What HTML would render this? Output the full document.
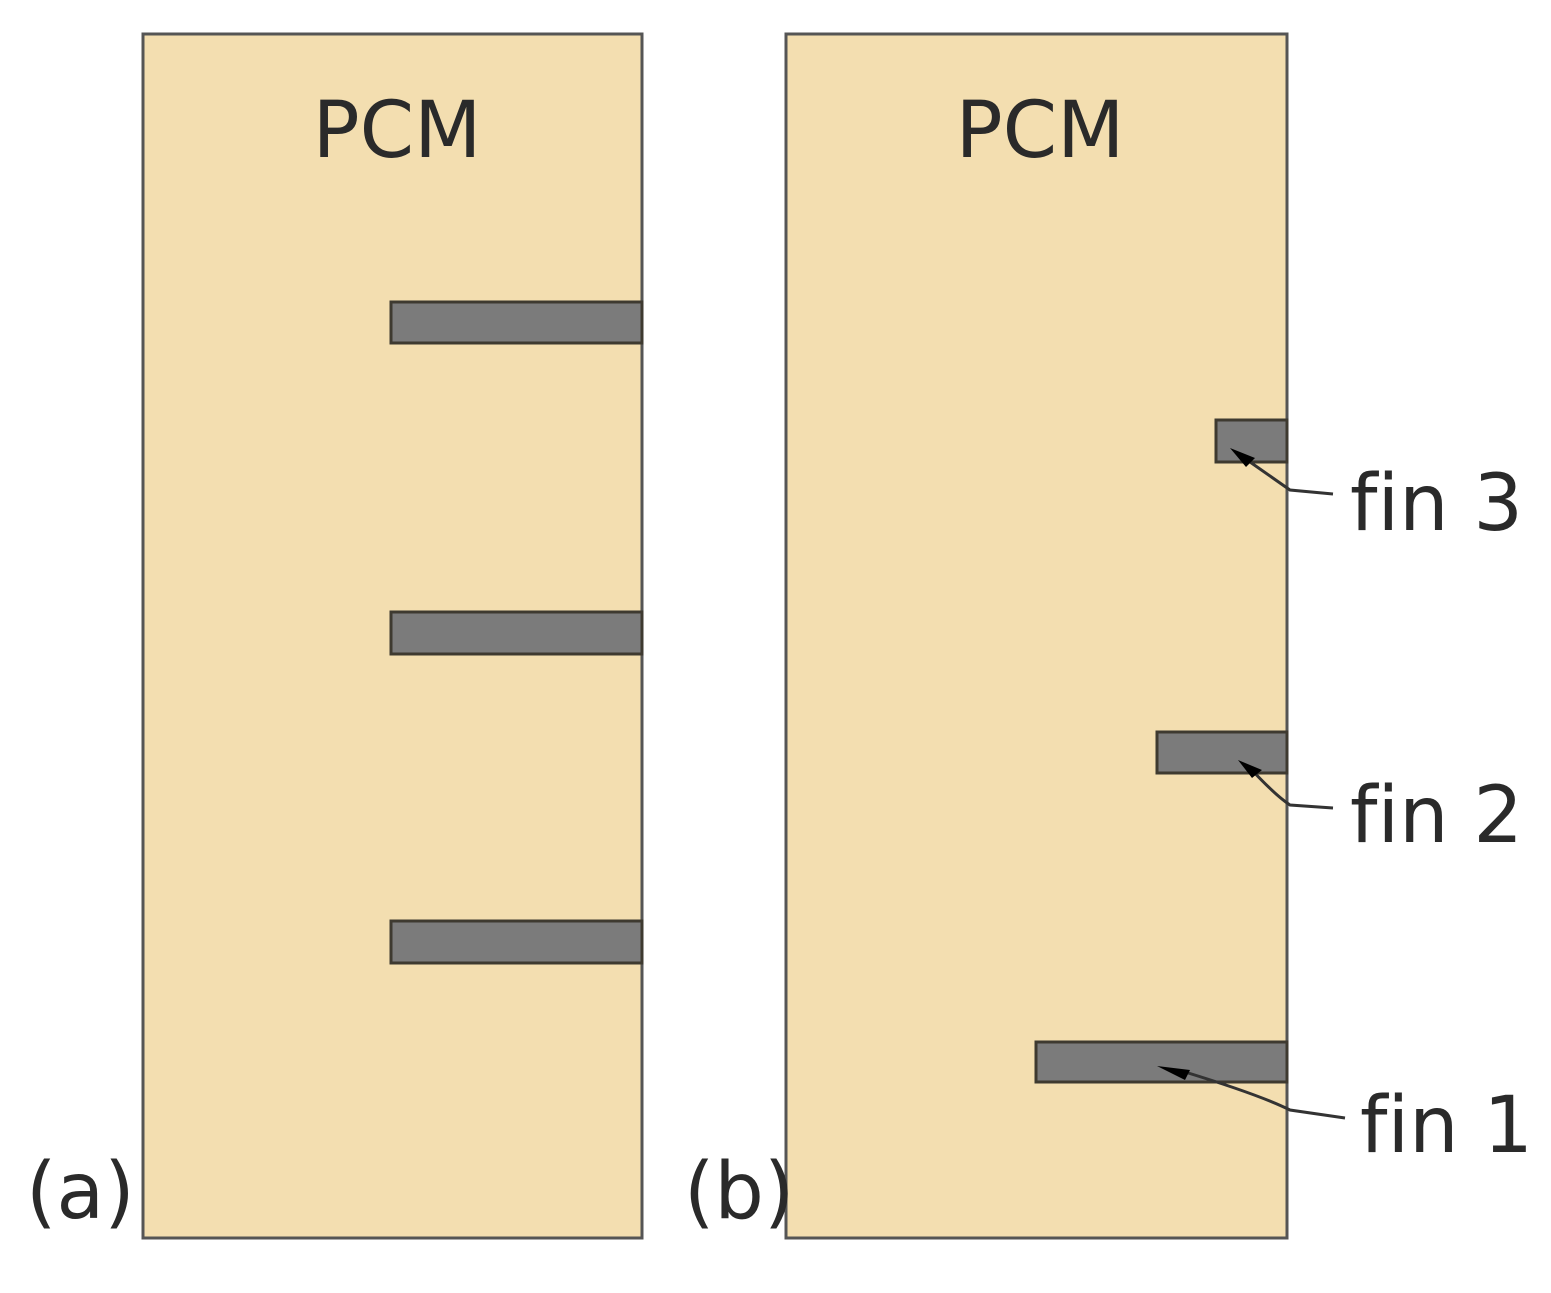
<!DOCTYPE html>
<html><head><meta charset="utf-8"><style>
html,body{margin:0;padding:0;background:#fff;}
svg{display:block}
text{font-family:"DejaVu Sans","Liberation Sans",sans-serif;fill:#2a2a2a;font-variant-ligatures:none;font-feature-settings:"liga" 0;}
</style></head><body>
<svg width="1551" height="1293" viewBox="0 0 1551 1293" xmlns="http://www.w3.org/2000/svg">
<rect x="143" y="34" width="499" height="1204" fill="#f3deb0" stroke="#555" stroke-width="3"/>
<rect x="786" y="34" width="501" height="1204" fill="#f3deb0" stroke="#555" stroke-width="3"/>
<g fill="#7b7b7b" stroke="#3e3a30" stroke-width="3">
<rect x="391" y="302" width="251" height="41"/>
<rect x="391" y="612" width="251" height="42"/>
<rect x="391" y="921" width="251" height="42"/>
<rect x="1216" y="420" width="71" height="42"/>
<rect x="1157" y="732" width="130" height="41"/>
<rect x="1036" y="1042" width="251" height="40"/>
</g>
<g fill="none" stroke="#333" stroke-width="3">
<path d="M1240,455 L1290,490 L1333,494"/>
<path d="M1250,768 Q1275,795 1290,805 L1333,808"/>
<path d="M1185,1072 Q1260,1095 1290,1110 L1345,1118"/>
</g>
<g fill="#000">
<polygon points="1230,448 1255,458 1246,467"/>
<polygon points="1238,760 1262,770 1252,778"/>
<polygon points="1157,1066 1190,1070 1185,1080"/>
</g>
<text x="397" y="157" font-size="78" text-anchor="middle">PCM</text>
<text x="1040" y="157" font-size="78" text-anchor="middle">PCM</text>
<text x="1350" y="530" font-size="78">fin 3</text>
<text x="1350" y="842" font-size="78">fin 2</text>
<text x="1360" y="1152" font-size="78">fin 1</text>
<text x="26" y="1218" font-size="78">(a)</text>
<text x="684" y="1218" font-size="78">(b)</text>
</svg>
</body></html>
